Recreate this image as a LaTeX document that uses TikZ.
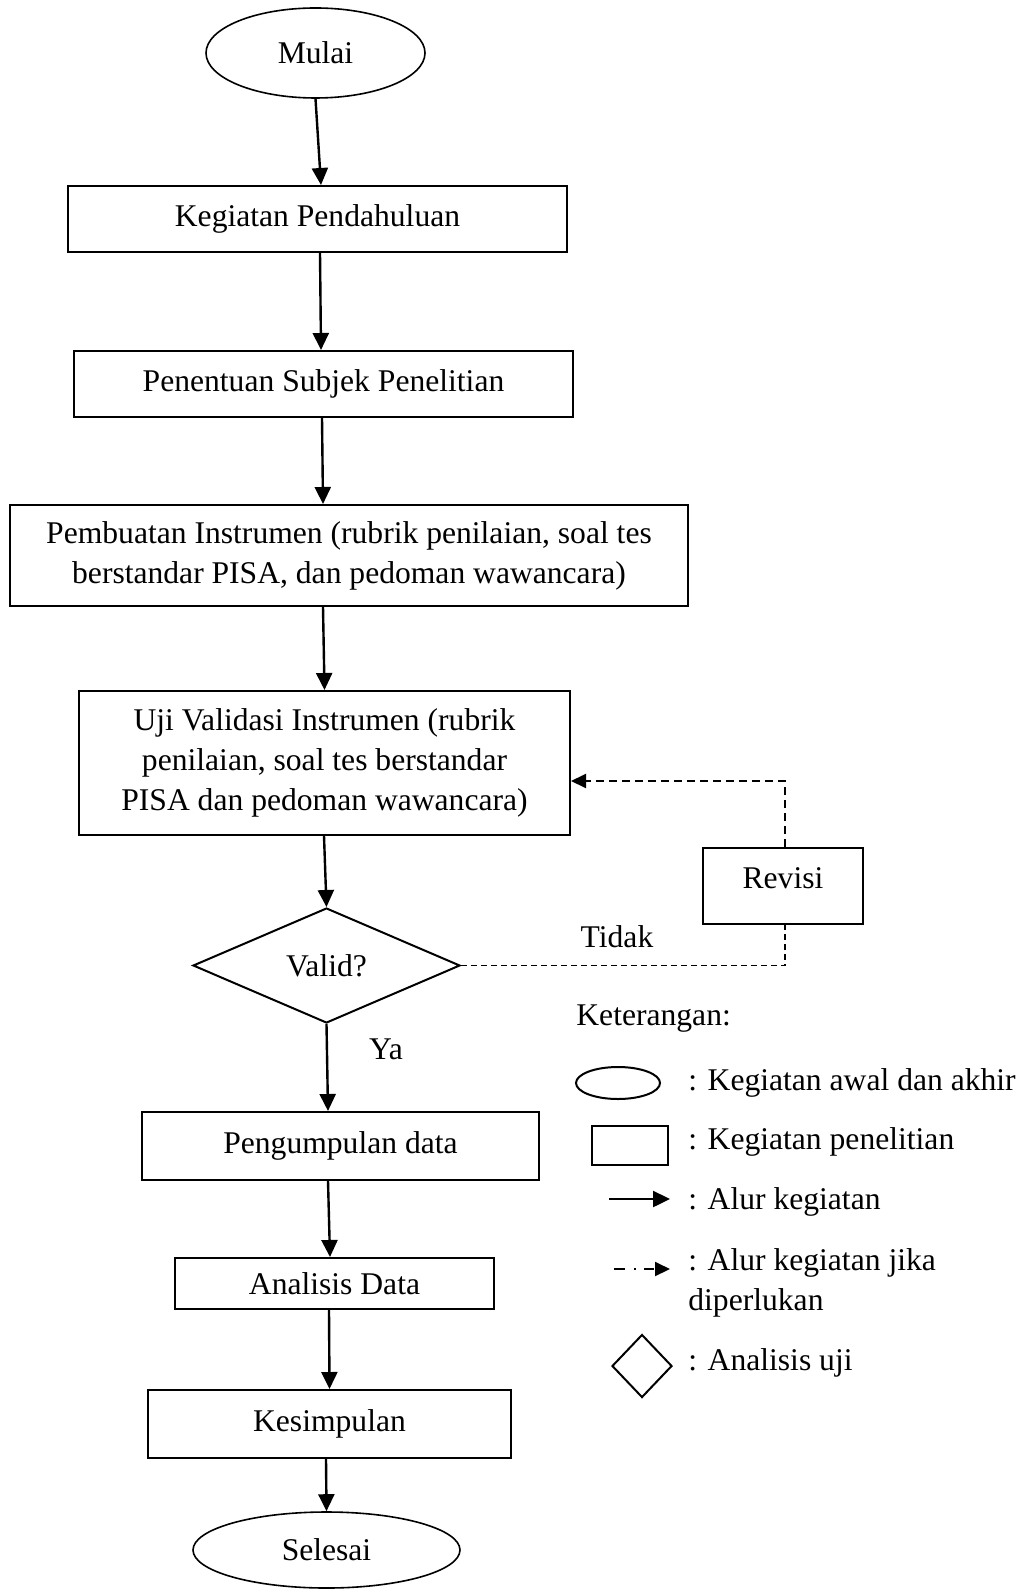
\documentclass[tikz,border=0pt]{standalone}
\usepackage{fontspec}
\setmainfont{Liberation Serif}
\usetikzlibrary{shapes.geometric,arrows.meta,calc}
\newcommand\myfont{\fontsize{15.8}{20}\selectfont}
\begin{document}
\begin{tikzpicture}[x=0.5pt,y=-0.5pt,
  every node/.style={font=\myfont},
  box/.style={draw, rectangle, line width=1pt, inner sep=0pt, align=center},
  term/.style={draw, ellipse, line width=0.8pt, inner sep=0pt},
  dec/.style={draw, diamond, line width=1pt, inner sep=0pt},
  arr/.style={-{Triangle[length=8.5pt,width=8pt]}, line width=1.2pt},
  dsh/.style={line width=0.9pt, dash pattern=on 3pt off 2pt},
  dsharr/.style={line width=1pt, dash pattern=on 4pt off 2.5pt, -{Triangle[length=7.5pt,width=7pt]}},
  txt/.style={inner sep=0pt, anchor=west, align=left}]
\useasboundingbox (0,0) rectangle (1021,1593);

% main flow
\node[term, minimum width=109.5pt, minimum height=45pt] (mulai) at (315.5,53) {Mulai};
\node[box, minimum width=249.5pt, minimum height=33pt] (keg) at (317.5,219) {Kegiatan Pendahuluan};
\node[box, minimum width=249.5pt, minimum height=33pt] (pen) at (323.5,384) {Penentuan Subjek Penelitian};
\node[box, minimum width=339pt, minimum height=50.5pt] (pem) at (349,555.5) {Pembuatan Instrumen (rubrik penilaian, soal tes\\berstandar PISA, dan pedoman wawancara)};
\node[box, minimum width=245.5pt, minimum height=72pt] (uji) at (324.5,763) {Uji Validasi Instrumen (rubrik\\penilaian, soal tes berstandar\\PISA dan pedoman wawancara)};
\node[dec, minimum width=133.5pt, minimum height=57.5pt] (valid) at (326.5,965.5) {Valid?};
\node[box, minimum width=80pt, minimum height=38pt, text height=10.4pt, text depth=8pt] (revisi) at (783,886) {Revisi};
\node[box, minimum width=198.5pt, minimum height=34pt] (peng) at (340.5,1146) {Pengumpulan data};
\node[box, minimum width=159.5pt, minimum height=25.5pt] (anal) at (334.5,1283.5) {Analisis Data};
\node[box, minimum width=181.5pt, minimum height=34pt] (kes) at (329.5,1424) {Kesimpulan};
\node[term, minimum width=133.5pt, minimum height=38pt] (sel) at (326.5,1550) {Selesai};

\node (tidak) at (617,937) {Tidak};
\node (ya) at (386,1049) {Ya};

% arrows
\draw[arr] (mulai.south) -- ([xshift=1.75pt]keg.north);
\draw[arr] ([xshift=1.25pt]keg.south) -- ([xshift=-1.25pt]pen.north);
\draw[arr] ([xshift=-0.75pt]pen.south) -- ([xshift=-13pt]pem.north);
\draw[arr] ([xshift=-13pt]pem.south) -- (uji.north);
\draw[arr] ([xshift=-0.25pt]uji.south) -- (valid.north);
\draw[arr] (valid.south) -- ([xshift=-6.25pt]peng.north);
\draw[arr] ([xshift=-6.25pt]peng.south) -- ([xshift=-2.25pt]anal.north);
\draw[arr] ([xshift=-2.75pt]anal.south) -- (kes.north);
\draw[arr] ([xshift=-1.75pt]kes.south) -- (sel.north);

% dashed loop
\draw[dsh] (valid.east) -| ([xshift=1pt]revisi.south);
\draw[dsharr] ([xshift=1pt]revisi.north) |- ([yshift=-9pt]uji.east);

% legend
\node[txt] (ket) at (576,1019) {Keterangan:};
\node[term, line width=1pt, minimum width=42pt, minimum height=16pt] (lg1) at (618,1083) {};
\node[txt] (lt1) at (688,1083) {: Kegiatan awal dan akhir};
\node[box, minimum width=38pt, minimum height=19.5pt] (lg2) at (630,1145.5) {};
\node[txt] (lt2) at (688,1142) {: Kegiatan penelitian};
\coordinate (la1) at (609,1199);
\coordinate (la2) at (670,1199);
\draw[arr] (la1) -- (la2);
\node[txt] (lt3) at (688,1202) {: Alur kegiatan};
\coordinate (lb1) at (614,1269);
\coordinate (lb2) at (670,1269);
\draw[line width=1pt, dash pattern=on 5.5pt off 4.5pt on 1pt off 4pt on 5pt off 10pt, -{Triangle[length=7.5pt,width=7pt]}] (lb1) -- (lb2);
\node[txt] (lt4) at (688,1282.5) {: Alur kegiatan jika\\diperlukan};
\node[dec, minimum width=30pt, minimum height=31.5pt] (lg5) at (642,1366) {};
\node[txt] (lt5) at (688,1363) {: Analisis uji};
\end{tikzpicture}
\end{document}
